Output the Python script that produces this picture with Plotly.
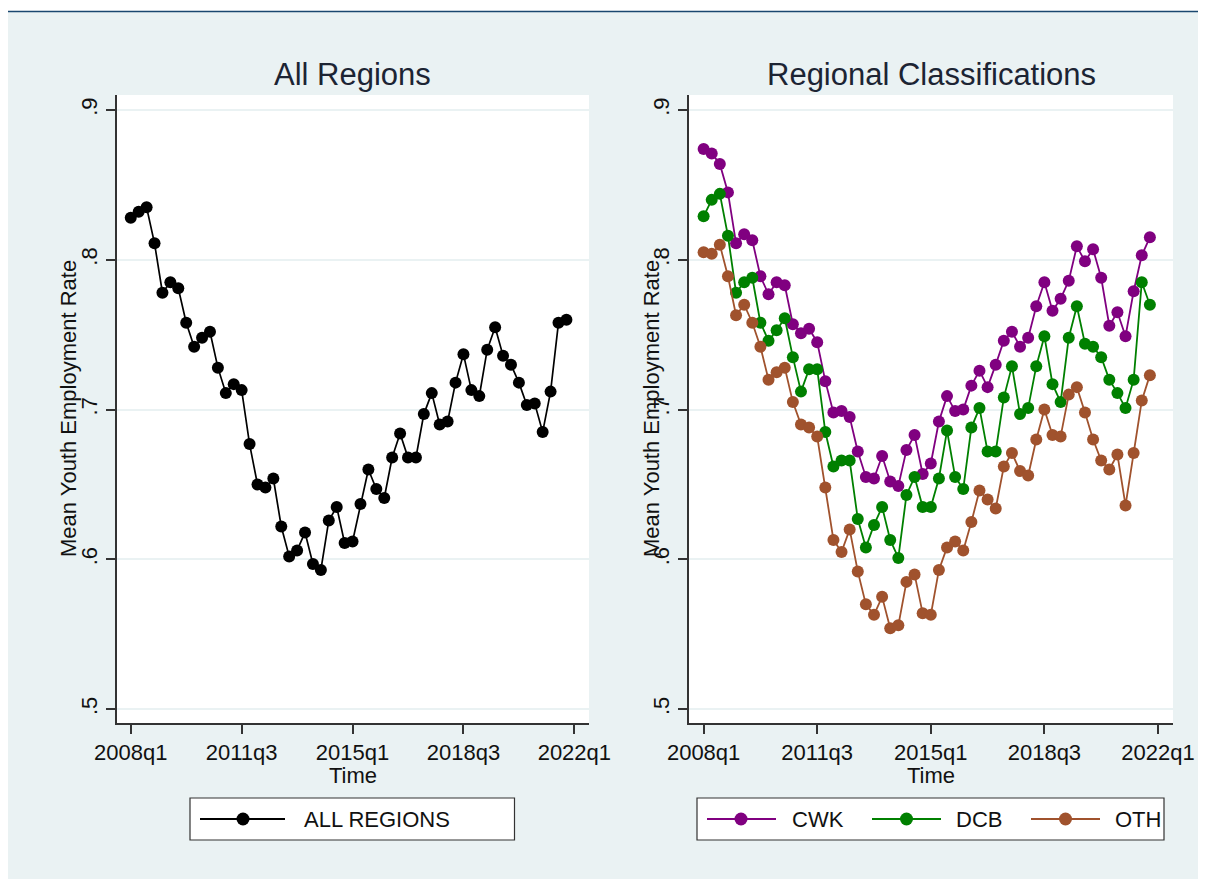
import plotly.graph_objects as go

W, H = 1206, 879
OFF = 8  # page body margin in which the figure sits

# ---------------- data ----------------
quarters = [f"{y}q{q}" for y in range(2008, 2023) for q in range(1, 5)][:57]  # 2008q1 .. 2022q1

all_regions = [0.828, 0.832, 0.835, 0.811, 0.778, 0.785, 0.781, 0.758, 0.742, 0.748,
               0.752, 0.728, 0.711, 0.717, 0.713, 0.677, 0.650, 0.648, 0.654, 0.622,
               0.602, 0.606, 0.618, 0.597, 0.593, 0.626, 0.635, 0.611, 0.612, 0.637,
               0.660, 0.647, 0.641, 0.668, 0.684, 0.668, 0.668, 0.697, 0.711, 0.690,
               0.692, 0.718, 0.737, 0.713, 0.709, 0.740, 0.755, 0.736, 0.730, 0.718,
               0.703, 0.704, 0.685, 0.712, 0.758, 0.760]

cwk = [0.874, 0.871, 0.864, 0.845, 0.811, 0.817, 0.813, 0.789, 0.777, 0.785,
       0.783, 0.757, 0.751, 0.754, 0.745, 0.719, 0.698, 0.699, 0.695, 0.672,
       0.655, 0.654, 0.669, 0.652, 0.649, 0.673, 0.683, 0.657, 0.664, 0.692,
       0.709, 0.699, 0.700, 0.716, 0.726, 0.715, 0.730, 0.746, 0.752, 0.742,
       0.748, 0.769, 0.785, 0.766, 0.774, 0.786, 0.809, 0.799, 0.807, 0.788,
       0.756, 0.765, 0.749, 0.779, 0.803, 0.815]

dcb = [0.829, 0.840, 0.844, 0.816, 0.778, 0.785, 0.788, 0.758, 0.746, 0.753,
       0.761, 0.735, 0.712, 0.727, 0.727, 0.685, 0.662, 0.666, 0.666, 0.627,
       0.608, 0.623, 0.635, 0.613, 0.601, 0.643, 0.655, 0.635, 0.635, 0.654,
       0.686, 0.655, 0.647, 0.688, 0.701, 0.672, 0.672, 0.708, 0.729, 0.697,
       0.701, 0.729, 0.749, 0.717, 0.705, 0.748, 0.769, 0.744, 0.742, 0.735,
       0.720, 0.711, 0.701, 0.720, 0.785, 0.770]

oth = [0.805, 0.804, 0.810, 0.789, 0.763, 0.770, 0.758, 0.742, 0.720, 0.725,
       0.728, 0.705, 0.690, 0.688, 0.682, 0.648, 0.613, 0.605, 0.620, 0.592,
       0.570, 0.563, 0.575, 0.554, 0.556, 0.585, 0.590, 0.564, 0.563, 0.593,
       0.608, 0.612, 0.606, 0.625, 0.646, 0.640, 0.634, 0.662, 0.671, 0.659,
       0.656, 0.680, 0.700, 0.683, 0.682, 0.710, 0.715, 0.698, 0.680, 0.666,
       0.660, 0.670, 0.636, 0.671, 0.706, 0.723]

x_tick_labels = ["2008q1", "2011q3", "2015q1", "2018q3", "2022q1"]
y_ticks = [0.5, 0.6, 0.7, 0.8, 0.9]
y_tick_labels = [".5", ".6", ".7", ".8", ".9"]

series_names = ["CWK", "DCB", "OTH"]
series_vals = [cwk, dcb, oth]
series_colors = ["#800080", "#008000", "#A0522D"]

# ---------------- helpers (page pixels -> paper fraction) ----------------
def px(x):
    return (x - OFF) / W

def py(y):
    return 1 - (y - OFF) / H

FONT = "Liberation Sans, Arial, sans-serif"
x_idx = list(range(len(all_regions)))
x_tickvals = [quarters.index(t) for t in x_tick_labels]

fig = go.Figure()

fig.add_trace(go.Scatter(
    x=x_idx, y=all_regions, mode="lines+markers", name="ALL REGIONS",
    line=dict(color="#000000", width=1.7),
    marker=dict(color="#000000", size=12),
    xaxis="x", yaxis="y", showlegend=False))

for name, vals, col in zip(series_names, series_vals, series_colors):
    fig.add_trace(go.Scatter(
        x=x_idx, y=vals, mode="lines+markers", name=name,
        line=dict(color=col, width=1.8),
        marker=dict(color=col, size=12),
        xaxis="x2", yaxis="y2", showlegend=False))

# plot geometry (page pixels)
L1, R1 = 116.5, 589
L2, R2 = 689, 1173
TOP, BOT = 95, 723
XR = [-1.8, 57.85]
YR = [0.4908, 0.910]

axis_common = dict(
    showline=True, linecolor="#333333", linewidth=1.5,
    ticks="outside", ticklen=9, tickwidth=1.5, tickcolor="#333333",
    tickfont=dict(family=FONT, size=22, color="#111111"),
    zeroline=False, automargin=False,
)

xcfg = dict(axis_common, range=XR, tickvals=x_tickvals, ticktext=x_tick_labels,
            showgrid=False, ticklabelstandoff=0)
ycfg = dict(axis_common, range=YR, tickvals=y_ticks, ticktext=y_tick_labels,
            tickangle=-90, showgrid=True, gridcolor="#EAF2F3", gridwidth=1.5,
            ticklabelstandoff=0)

fig.update_layout(
    width=W, height=H,
    margin=dict(l=0, r=0, t=0, b=0, pad=0, autoexpand=False),
    paper_bgcolor="#EAF2F3",
    plot_bgcolor="#FFFFFF",
    font=dict(family=FONT, size=22, color="#111111"),
    xaxis=dict(xcfg, domain=[px(L1), px(R1)], anchor="y"),
    yaxis=dict(ycfg, domain=[py(BOT), py(TOP)], anchor="x"),
    xaxis2=dict(xcfg, domain=[px(L2), px(R2)], anchor="y2"),
    yaxis2=dict(ycfg, domain=[py(BOT), py(TOP)], anchor="x2"),
    showlegend=False,
)

shapes = []
annotations = []

# white outer strip + blue rule at top
shapes.append(dict(type="rect", xref="paper", yref="paper", x0=0, x1=1, y0=py(11), y1=1,
                   fillcolor="#FFFFFF", line=dict(width=0), layer="below"))
shapes.append(dict(type="line", xref="paper", yref="paper", x0=0, x1=1, y0=py(11.5), y1=py(11.5),
                   line=dict(color="#1A476F", width=1.5)))

# titles and x-axis titles
for cx, txt in [((L1 + R1) / 2, "All Regions"), ((L2 + R2) / 2, "Regional Classifications")]:
    annotations.append(dict(x=px(cx), y=py(75), xref="paper", yref="paper", text=txt,
                            showarrow=False, xanchor="center", yanchor="middle",
                            font=dict(family=FONT, size=31, color="#1C2433")))
    annotations.append(dict(x=px(cx), y=py(775), xref="paper", yref="paper", text="Time",
                            showarrow=False, xanchor="center", yanchor="middle",
                            font=dict(family=FONT, size=22, color="#111111")))

# y-axis titles
for cx in [68, 651]:
    annotations.append(dict(x=px(cx), y=py((TOP + BOT) / 2), xref="paper", yref="paper",
                            text="Mean Youth Employment Rate", textangle=-90,
                            showarrow=False, xanchor="center", yanchor="middle",
                            font=dict(family=FONT, size=22, color="#111111")))

# legends (drawn manually)
LY0, LY1 = 798, 840
LYC = (LY0 + LY1) / 2
R_MK = 6.5

def legend_box(x0, x1):
    shapes.append(dict(type="rect", xref="paper", yref="paper", x0=px(x0), x1=px(x1),
                       y0=py(LY1), y1=py(LY0), fillcolor="#FFFFFF",
                       line=dict(color="#333333", width=1.2)))

def legend_item(lx0, lx1, mx, tx, text, col):
    shapes.append(dict(type="line", xref="paper", yref="paper", x0=px(lx0), x1=px(lx1),
                       y0=py(LYC), y1=py(LYC), line=dict(color=col, width=1.8)))
    shapes.append(dict(type="circle", xref="paper", yref="paper",
                       x0=px(mx - R_MK), x1=px(mx + R_MK), y0=py(LYC + R_MK), y1=py(LYC - R_MK),
                       fillcolor=col, line=dict(color=col, width=0)))
    annotations.append(dict(x=px(tx), y=py(LYC), xref="paper", yref="paper", text=text,
                            showarrow=False, xanchor="left", yanchor="middle",
                            font=dict(family=FONT, size=22, color="#111111")))

legend_box(190, 514.5)
legend_item(200, 285, 243, 302, "ALL REGIONS", "#000000")

legend_box(697, 1164)
legend_item(707, 776, 741, 790, series_names[0], series_colors[0])
legend_item(872, 941, 906.5, 954, series_names[1], series_colors[1])
legend_item(1031, 1100, 1065.5, 1113, series_names[2], series_colors[2])

fig.update_layout(shapes=shapes, annotations=annotations)

fig.write_html("out.html")
